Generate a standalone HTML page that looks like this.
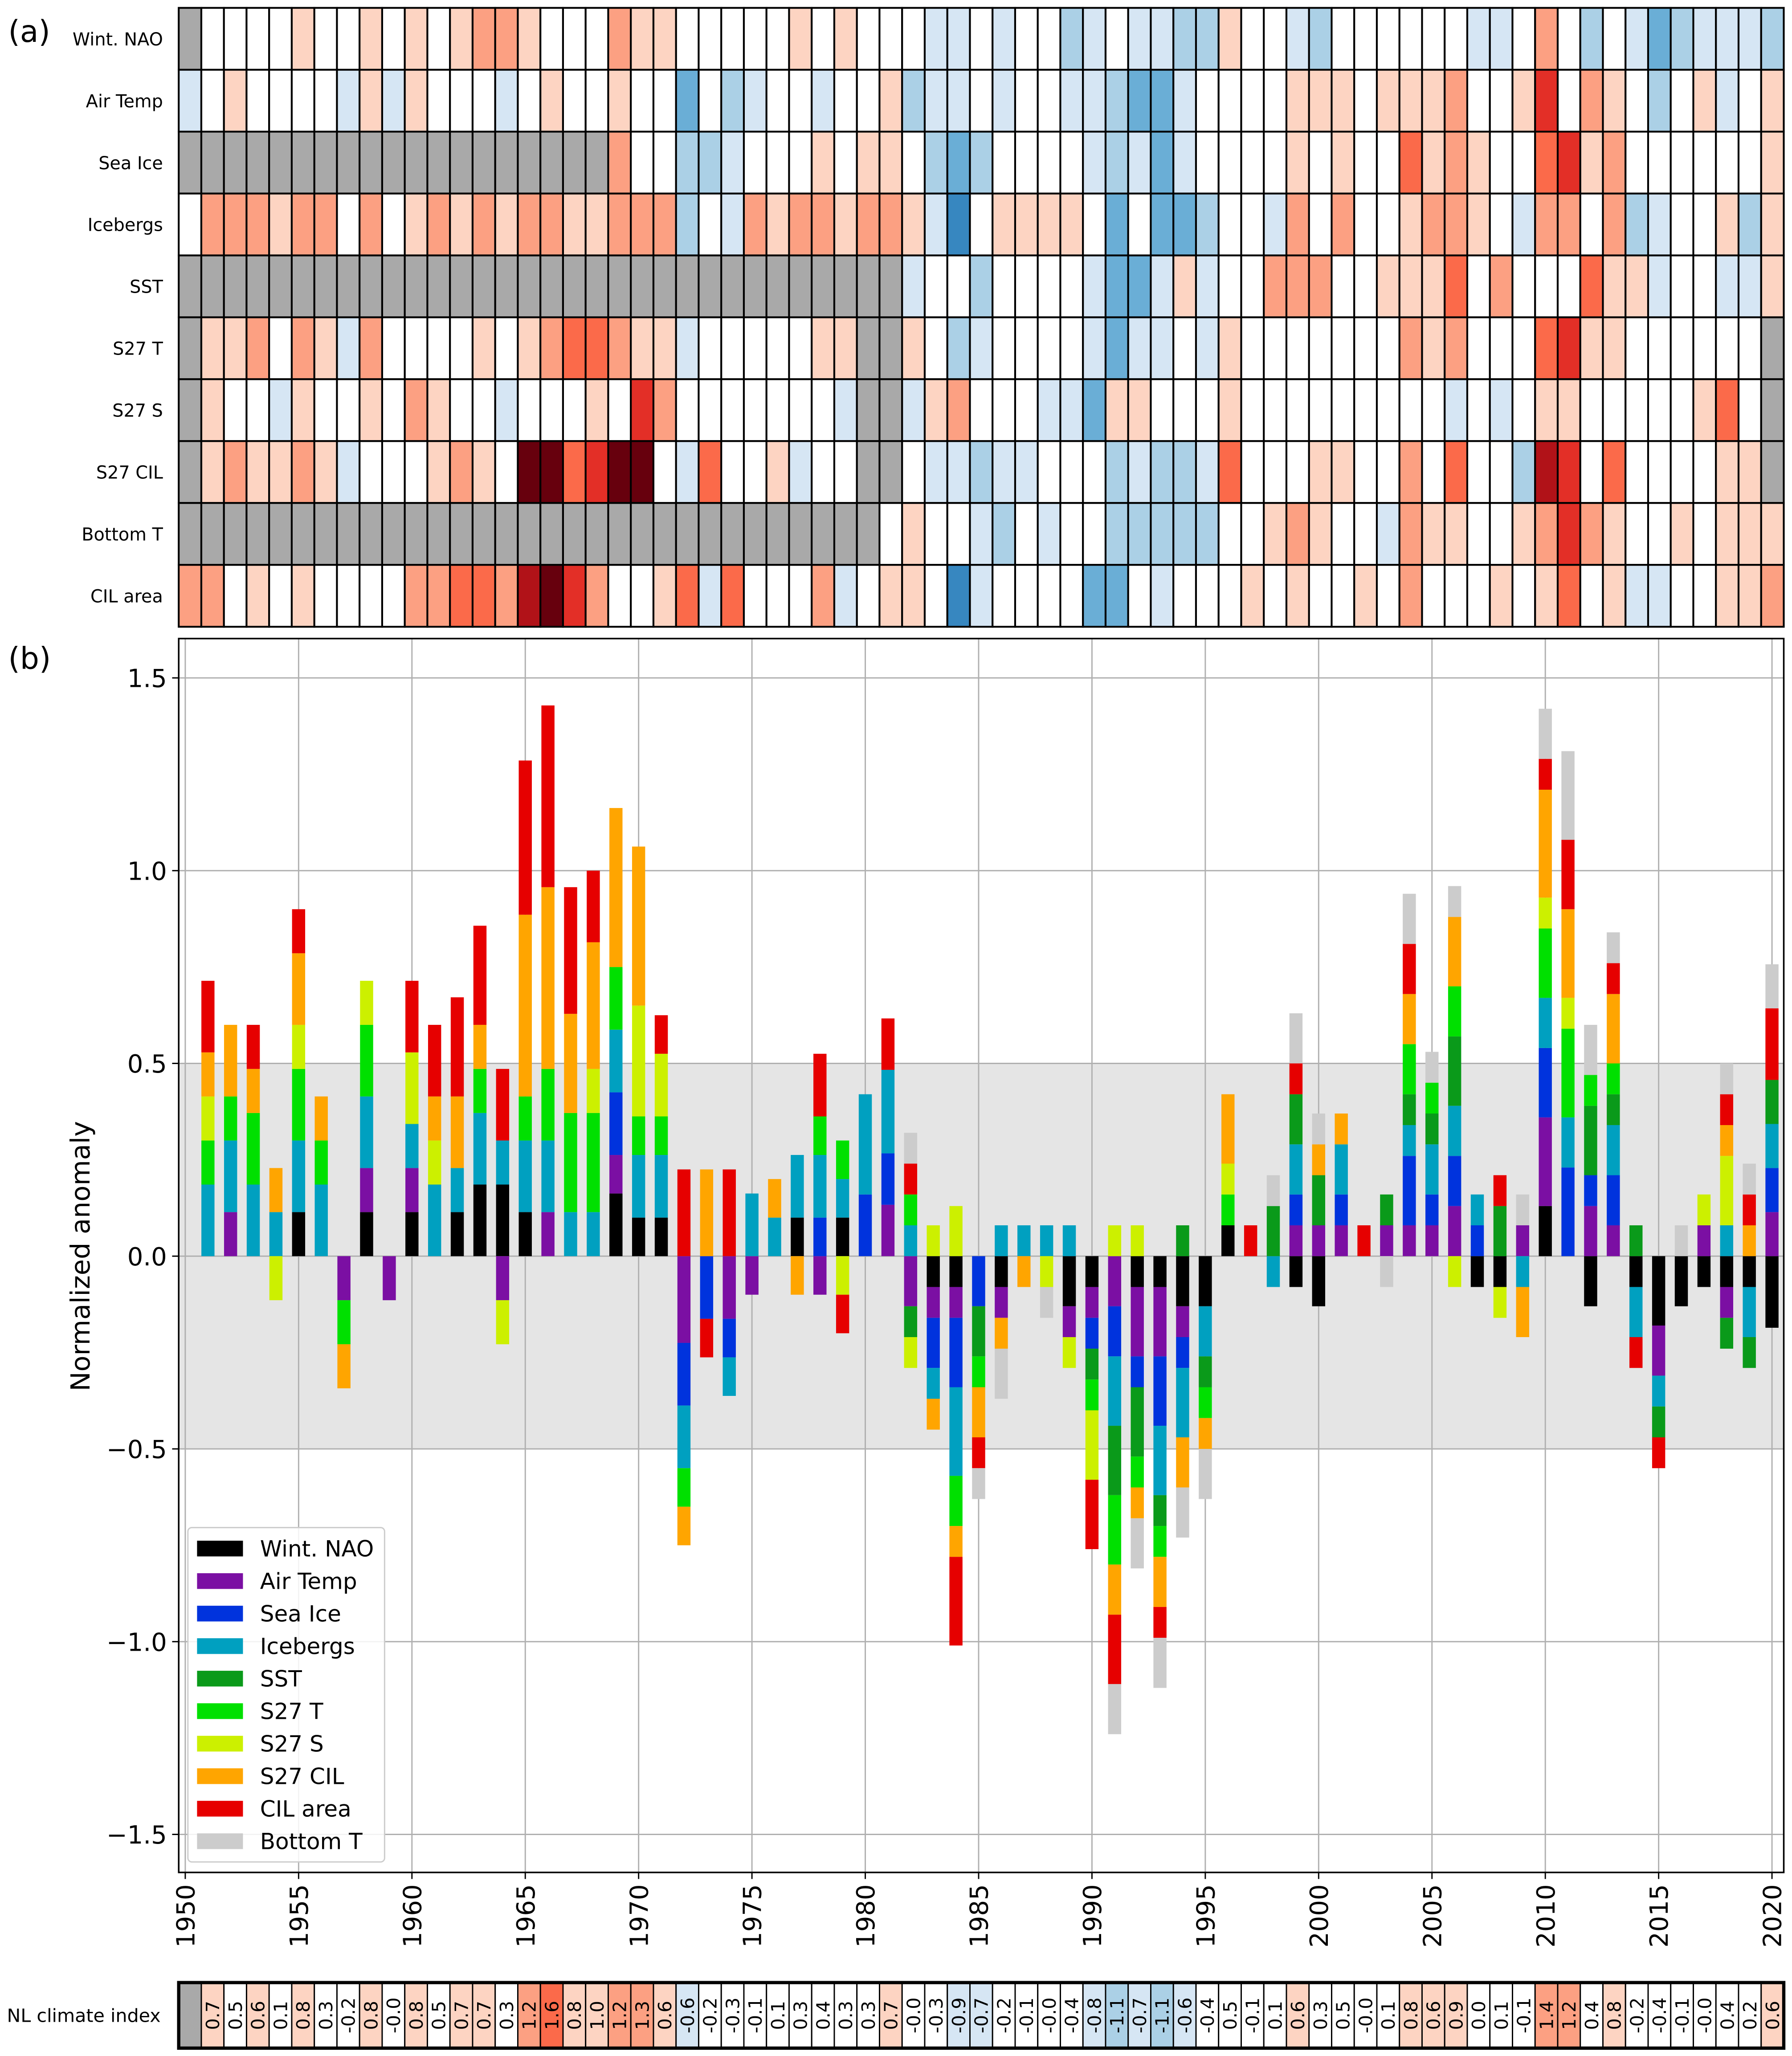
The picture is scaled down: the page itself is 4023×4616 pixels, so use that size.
<!DOCTYPE html>
<html><head><meta charset="utf-8"><style>
html,body{margin:0;padding:0;background:#fff}
svg{display:block}
text{font-family:"DejaVu Sans","Liberation Sans",sans-serif}
</style></head><body>
<svg id="fig" xmlns="http://www.w3.org/2000/svg" width="4023" height="4616" viewBox="0 0 1366 1568">
<defs><clipPath id="axclip"><rect x="136" y="487" width="1224" height="941"/></clipPath></defs>
<rect x="0" y="0" width="1366" height="1568" fill="#fff"/>
<g id="heat"></g>
<g id="panelb"></g>
<g id="idxrow"></g>
</svg>
<script>
const years = [];
for (let y = 1950; y <= 2020; y++) years.push(y);
const varNames = ["Wint. NAO","Air Temp","Sea Ice","Icebergs","SST","S27 T","S27 S","S27 CIL","Bottom T","CIL area"];
const barColors = ["#000000","#7b0fa3","#0033dd","#00a0c0","#0a9a1a","#00e000","#ccf000","#ffa500","#e60000","#cccccc"];
const legendNames = ["Wint. NAO","Air Temp","Sea Ice","Icebergs","SST","S27 T","S27 S","S27 CIL","CIL area","Bottom T"];
const N=null;
const nao = [N,0,0,0,0,.8,0,0,.8,0,.8,0,.8,1.3,1.3,.8,0,0,0,1.3,.8,.8,0,0, 0,0,0,.8,0,.8,0,0,0,-.8,-.8,0,-.8,0,0,-1.3,-.8,0,-.8,-.8,-1.3,-1.3,.8,0, 0,-.8,-1.3,0,0,0,0,0,0,-.8,-.8,0,1.3,0,-1.3,0,-.8,-1.8,-1.3,-.8,-.8,-.8,-1.3];
const airTemp = [-.8,0,.8,0,0,0,0,-.8,.8,-.8,.8,0,0,0,-.8,0,.8,0,0,.8,0,0,-1.8,0, -1.3,-.8,0,0,-.8,0,0,.8,-1.3,-.8,-.8,0,-.8,0,0,-.8,-.8,-1.3,-1.8,-1.8,-.8,0,0,0, 0,.8,.8,.8,0,.8,.8,.8,1.3,0,0,.8,2.3,0,1.3,.8,0,-1.3,0,.8,-.8,0,.8];
const seaIce = [N,N,N,N,N,N,N,N,N,N,N,N,N,N,N,N,N,N,N,1.3,0,0,-1.3,-1.3, -.8,0,0,0,.8,0,.8,.8,0,-1.3,-1.8,-1.3,0,0,0,0,-.8,-1.3,-.8,-1.8,-.8,0,0,0, 0,.8,0,.8,0,0,1.8,.8,1.3,.8,0,0,1.8,2.3,.8,1.3,0,0,0,0,0,0,.8];
const icebergs = [0,1.3,1.3,1.3,.8,1.3,1.3,0,1.3,0,.8,1.3,.8,1.3,.8,1.3,1.3,.8,.8,1.3,1.3,1.3,-1.3,0, -.8,1.3,.8,1.3,1.3,.8,1.3,1.3,.8,-.8,-2.3,0,.8,.8,.8,.8,0,-1.8,0,-1.8,-1.8,-1.3,0,0, -.8,1.3,0,1.3,0,0,.8,1.3,1.3,.8,0,-.8,1.3,1.3,0,1.3,-1.3,-.8,0,0,.8,-1.3,.8];
const sst = [N,N,N,N,N,N,N,N,N,N,N,N,N,N,N,N,N,N,N,N,N,N,N,N, N,N,N,N,N,N,N,N,-.8,0,0,-1.3,0,0,0,0,-.8,-1.8,-1.8,-.8,.8,-.8,0,0, 1.3,1.3,1.3,0,0,.8,.8,.8,1.8,0,1.3,0,0,0,1.8,.8,.8,-.8,0,0,-.8,-.8,.8];
const s27T = [N,.8,.8,1.3,0,1.3,.8,-.8,1.3,0,0,0,0,.8,0,.8,1.3,1.8,1.8,1.3,.8,.8,-.8,0, 0,0,0,0,.8,.8,N,N,.8,0,-1.3,-.8,0,0,0,0,-.8,-1.8,-.8,-.8,0,-.8,.8,0, 0,0,0,0,0,0,1.3,.8,1.3,0,0,0,1.8,2.3,.8,.8,0,0,0,0,0,0,N];
const s27S = [N,.8,0,0,-.8,.8,0,0,.8,0,1.3,.8,0,0,-.8,0,0,0,.8,0,2.3,1.3,0,0, 0,0,0,0,0,-.8,N,N,-.8,.8,1.3,0,0,0,-.8,-.8,-1.8,.8,.8,0,0,0,.8,0, 0,0,0,0,0,0,0,0,-.8,0,-.8,0,.8,.8,0,0,0,0,0,.8,1.8,0,N];
const s27CIL = [N,.8,1.3,.8,.8,1.3,.8,-.8,0,0,0,.8,1.3,.8,0,3.3,3.3,1.8,2.3,3.3,3.3,0,-.8,1.8, 0,0,.8,-.8,0,0,N,N,0,-.8,-.8,-1.3,-.8,-.8,0,0,0,-1.3,-.8,-1.3,-1.3,-.8,1.8,0, 0,0,.8,.8,0,0,1.3,0,1.8,0,0,-1.3,2.8,2.3,0,1.8,0,0,0,0,.8,.8,N];
const bottomT = [N,N,N,N,N,N,N,N,N,N,N,N,N,N,N,N,N,N,N,N,N,N,N,N, N,N,N,N,N,N,N,0,.8,0,0,-.8,-1.3,0,-.8,0,0,-1.3,-1.3,-1.3,-1.3,-1.3,0,0, .8,1.3,.8,0,0,-.8,1.3,.8,.8,0,0,.8,1.3,2.3,1.3,.8,0,0,.8,0,.8,.8,.8];
const cilArea = [1.3,1.3,0,.8,0,.8,0,0,0,0,1.3,1.3,1.8,1.8,1.3,2.8,3.3,2.3,1.3,0,0,.8,1.8,-.8, 1.8,0,0,0,1.3,-.8,0,.8,.8,0,-2.3,-.8,0,0,0,0,-1.8,-1.8,0,-.8,0,0,0,.8, 0,.8,0,0,.8,0,1.3,0,0,0,.8,0,.8,1.8,0,.8,-.8,-.8,0,0,.8,.8,1.3];
const indexLabels = ["","0.7","0.5","0.6","0.1","0.8","0.3","-0.2","0.8","-0.0","0.8","0.5","0.7","0.7","0.3","1.2","1.6","0.8","1.0","1.2","1.3","0.6","-0.6","-0.2","-0.3","-0.1","0.1","0.3","0.4","0.3","0.3","0.7","-0.0","-0.3","-0.9","-0.7","-0.2","-0.1","-0.0","-0.4","-0.8","-1.1","-0.7","-1.1","-0.6","-0.4","0.5","-0.1","0.1","0.6","0.3","0.5","-0.0","0.1","0.8","0.6","0.9","0.0","0.1","-0.1","1.4","1.2","0.4","0.8","-0.2","-0.4","-0.1","-0.0","0.4","0.2","0.6"];
const yTicks = [-1.5,-1.0,-0.5,0.0,0.5,1.0,1.5];
const xTicks = [1950,1955,1960,1965,1970,1975,1980,1985,1990,1995,2000,2005,2010,2015,2020];

const heatRows = [nao,airTemp,seaIce,icebergs,sst,s27T,s27S,s27CIL,bottomT,cilArea];
const barSeries = [nao,airTemp,seaIce,icebergs,sst,s27T,s27S,s27CIL,cilArea,bottomT];

const NS="http://www.w3.org/2000/svg";
function mk(tag, attrs, parent){const e=document.createElementNS(NS,tag);for(const k in attrs)e.setAttribute(k,attrs[k]);parent.appendChild(e);return e;}
function heatColor(v){
  if(v===null||v===undefined) return "#a9a9a9";
  const a=Math.abs(v);
  const reds=["#ffffff","#fdd4c2","#fca082","#fb6a4a","#e32f27","#b11218","#67000d"];
  const blues=["#ffffff","#d6e6f4","#abd0e6","#6aaed6","#3787c0","#08519c","#08306b"];
  let l = a<0.5?0:a<1?1:a<1.5?2:a<2?3:a<2.5?4:a<3?5:6;
  return v>=0?reds[l]:blues[l];
}
function idxColor(v){
  if(isNaN(v)) return "#a9a9a9";
  const a=Math.abs(v);
  let l = a<=0.5?0:a<1.05?1:a<1.5?2:3;
  const reds=["#ffffff","#fdd4c2","#fca082","#fb6a4a"], blues=["#ffffff","#d6e6f4","#abd0e6","#6aaed6"];
  return v>=0?reds[l]:blues[l];
}
const HX0=136,HX1=1360,HY0=6,HY1=478;
const cw=(HX1-HX0)/years.length, rh=(HY1-HY0)/heatRows.length;
const heat=document.getElementById('heat');
const ta=mk('text',{x:6,y:32,'font-size':23},heat); ta.textContent="(a)";


heatRows.forEach((row,r)=>{
  const lb=mk('text',{x:124,y:HY0+rh*(r+0.5)+5,'font-size':13.5,'text-anchor':'end'},heat);
  lb.textContent=varNames[r];
  
  
  row.forEach((v,c)=>{
    const rc=mk('rect',{x:HX0+c*cw,y:HY0+r*rh,width:cw,height:rh,fill:heatColor(v),stroke:'#000','stroke-width':1.4},heat);
    
    
  });
});

const pb=document.getElementById('panelb');
const AX0=136,AX1=1360,AY0=487,AY1=1428;
const yv=v=>958-v*294;
const xv=yr=>141+(yr-1950)*17.286;
const tb=mk('text',{x:6,y:510,'font-size':23},pb); tb.textContent="(b)";


const band=mk('rect',{x:AX0,y:yv(0.5),width:AX1-AX0,height:yv(-0.5)-yv(0.5),fill:'#e5e5e5'},pb);


yTicks.forEach(t=>{
  const g=mk('line',{x1:AX0,x2:AX1,y1:yv(t),y2:yv(t),stroke:'#b0b0b0','stroke-width':1},pb);
  
  
  mk('line',{x1:AX0-5,x2:AX0,y1:yv(t),y2:yv(t),stroke:'#000','stroke-width':1},pb);
  const tl=mk('text',{x:AX0-9,y:yv(t)+7,'font-size':19,'text-anchor':'end'},pb);
  tl.textContent=(t<0?"\u2212":"")+Math.abs(t).toFixed(1);
  
  
});
xTicks.forEach(t=>{
  const g=mk('line',{x1:xv(t),x2:xv(t),y1:AY0,y2:AY1,stroke:'#b0b0b0','stroke-width':1},pb);
  
  
  mk('line',{x1:xv(t),x2:xv(t),y1:AY1,y2:AY1+5,stroke:'#000','stroke-width':1},pb);
  const tl=mk('text',{x:0,y:0,'font-size':19,'text-anchor':'end',transform:`translate(${xv(t)+7},${AY1+9}) rotate(-90)`},pb);
  tl.textContent=t;
  
  
});
const bars=mk('g',{'clip-path':'url(#axclip)'},pb);


const bw=10;
years.forEach((yr,i)=>{
  if(indexLabels[i]==="") return;
  let n=0; barSeries.forEach(s=>{if(s[i]!==null)n++;});
  if(!n) return;
  let pos=0,neg=0;
  barSeries.forEach((s,k)=>{
    const v=s[i]; if(v===null||v===0) return;
    const c=v/n; let y0,y1;
    if(c>0){y0=pos;y1=pos+c;pos=y1;}else{y0=neg;y1=neg+c;neg=y1;}
    const r=mk('rect',{x:xv(yr)-bw/2,y:Math.min(yv(y0),yv(y1)),width:bw,height:Math.abs(yv(y0)-yv(y1)),fill:barColors[k]},bars);
    
    
  });
});
const frame=mk('rect',{x:AX0,y:AY0,width:AX1-AX0,height:AY1-AY0,fill:'none',stroke:'#000','stroke-width':1.2},pb);


const yt=mk('text',{x:0,y:0,'font-size':20,'text-anchor':'middle',transform:'translate(68,958) rotate(-90)'},pb);
yt.textContent="Normalized anomaly";


const lg=mk('g',{},pb);


mk('rect',{x:143,y:1165,width:150,height:255,fill:'#fff','fill-opacity':0.85,stroke:'#ccc',rx:3},lg);
legendNames.forEach((nm,k)=>{
  const cy=1181+k*24.8;
  const e=mk('g',{},lg);
  
  
  mk('rect',{x:150,y:cy-6,width:35,height:12,fill:barColors[k]},e);
  const t=mk('text',{x:198,y:cy+6,'font-size':17},e); t.textContent=nm;
});

const ir=document.getElementById('idxrow');
const IY0=1512,IY1=1562;
const lab=mk('text',{x:5,y:1542,'font-size':14},ir); lab.textContent="NL climate index";


indexLabels.forEach((s,i)=>{
  const v=s===""?NaN:parseFloat(s);
  const c=mk('rect',{x:HX0+i*cw,y:IY0,width:cw,height:IY1-IY0,fill:idxColor(v),stroke:'#000','stroke-width':1},ir);
  
  
  if(s!==""){
    const t=mk('text',{x:0,y:0,'font-size':14,'text-anchor':'middle',transform:`translate(${HX0+(i+0.5)*cw+5},${(IY0+IY1)/2}) rotate(-90)`},ir);
    t.textContent=s;
    
    
  }
});
mk('rect',{x:HX0,y:IY0,width:HX1-HX0,height:IY1-IY0,fill:'none',stroke:'#000','stroke-width':2.5},ir);
</script>
</body></html>
